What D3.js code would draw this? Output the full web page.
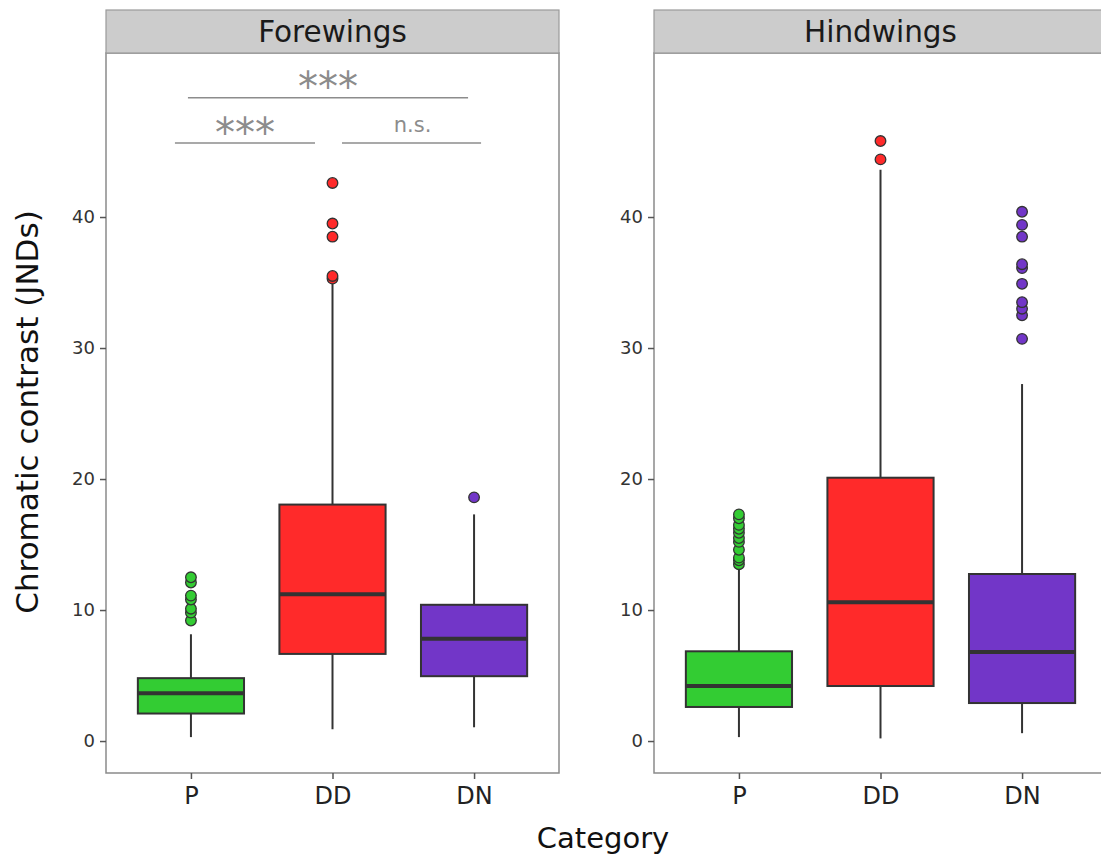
<!DOCTYPE html>
<html><head><meta charset="utf-8">
<script src="https://cdn.jsdelivr.net/npm/d3@7/dist/d3.min.js"></script>
<style>body{margin:0;background:#fff}svg{display:block}</style>
</head><body>
<svg id="chart" width="1101" height="857"></svg>
<script>
// ---- data ----
const categories = ["P", "DD", "DN"];
const panelNames = ["Forewings", "Hindwings"];
const yTicks = [0, 10, 20, 30, 40];
const fillColors = ["#33CC33", "#FF2A2A", "#7236C8"];

const foreLower  = [0.3, 0.9, 1.05];
const foreQ1     = [2.1, 6.65, 4.95];
const foreMedian = [3.65, 11.2, 7.8];
const foreQ3     = [4.8, 18.05, 10.4];
const foreUpper  = [8.15, 35.0, 17.3];
const foreOutliers = [
  [9.2, 9.8, 10.1, 10.8, 11.1, 12.1, 12.5],
  [35.3, 35.5, 38.5, 39.5, 42.6],
  [18.6]
];

const hindLower  = [0.3, 0.2, 0.6];
const hindQ1     = [2.6, 4.2, 2.9];
const hindMedian = [4.2, 10.6, 6.8];
const hindQ3     = [6.85, 20.1, 12.75];
const hindUpper  = [13.3, 43.6, 27.25];
const hindOutliers = [
  [13.5, 13.8, 14.0, 14.6, 15.2, 15.5, 15.9, 16.2, 16.5, 17.0, 17.3],
  [44.4, 45.8],
  [30.7, 32.5, 33.0, 33.5, 34.9, 36.1, 36.4, 38.5, 39.4, 40.4]
];

// significance brackets (forewings panel)
const bracketFrom  = ["P", "P", "DD"];
const bracketTo    = ["DN", "DD", "DN"];
const bracketY     = [49.1, 45.65, 45.65];
const bracketLabel = ["***", "***", "n.s."];

// ---- layout ----
const svg = d3.select("#chart");
const panelW = 453, panelTop = 53, panelBottom = 773, stripTop = 10;
const panelLefts = [106, 654];

const y = d3.scaleLinear().domain([-2.44, 52.52]).range([panelBottom, panelTop]);
const x = d3.scalePoint().domain(categories).range([0, panelW]).padding(0.6);
const boxW = x.step() * 0.75;

const panelData = [
  {name: panelNames[0], lower: foreLower, q1: foreQ1, med: foreMedian, q3: foreQ3, upper: foreUpper, out: foreOutliers},
  {name: panelNames[1], lower: hindLower, q1: hindQ1, med: hindMedian, q3: hindQ3, upper: hindUpper, out: hindOutliers}
];

panelData.forEach((pd, pi) => {
  const g = svg.append("g").attr("transform", `translate(${panelLefts[pi]},0)`);
  g.append("rect").attr("x", 0).attr("y", panelTop).attr("width", panelW).attr("height", panelBottom - panelTop)
    .attr("fill", "#fff").attr("stroke", "#8a8a8a").attr("stroke-width", 1.5);
  g.append("rect").attr("x", 0).attr("y", stripTop).attr("width", panelW).attr("height", panelTop - stripTop)
    .attr("fill", "#cccccc").attr("stroke", "#9a9a9a").attr("stroke-width", 1.2);
  g.append("text").attr("x", panelW / 2).attr("y", 41.5).attr("text-anchor", "middle")
    .attr("font-family", "DejaVu Sans").attr("font-size", 29.5).attr("fill", "#1a1a1a").text(pd.name);

  const yAxis = d3.axisLeft(y).tickValues(yTicks).tickSize(6).tickPadding(5).tickFormat(d3.format("d"));
  const ya = g.append("g").call(yAxis);
  ya.select(".domain").remove();
  ya.selectAll(".tick line").attr("stroke", "#555").attr("stroke-width", 1.5);
  ya.selectAll(".tick text").attr("font-family", "DejaVu Sans").attr("font-size", 18).attr("fill", "#333");

  const xAxis = d3.axisBottom(x).tickSize(6).tickPadding(8);
  const xa = g.append("g").attr("transform", `translate(0,${panelBottom})`).call(xAxis);
  xa.select(".domain").remove();
  xa.selectAll(".tick line").attr("stroke", "#555").attr("stroke-width", 1.5);
  xa.selectAll(".tick text").attr("font-family", "DejaVu Sans").attr("font-size", 24).attr("fill", "#222");

  categories.forEach((c, i) => {
    const cx = x(c);
    const bg = g.append("g");
    bg.append("line").attr("x1", cx).attr("x2", cx).attr("y1", y(pd.lower[i])).attr("y2", y(pd.q1[i]))
      .attr("stroke", "#333").attr("stroke-width", 2);
    bg.append("line").attr("x1", cx).attr("x2", cx).attr("y1", y(pd.q3[i])).attr("y2", y(pd.upper[i]))
      .attr("stroke", "#333").attr("stroke-width", 2);
    bg.append("rect").attr("x", cx - boxW / 2).attr("width", boxW)
      .attr("y", y(pd.q3[i])).attr("height", y(pd.q1[i]) - y(pd.q3[i]))
      .attr("fill", fillColors[i]).attr("stroke", "#333").attr("stroke-width", 2);
    bg.append("line").attr("x1", cx - boxW / 2).attr("x2", cx + boxW / 2)
      .attr("y1", y(pd.med[i])).attr("y2", y(pd.med[i]))
      .attr("stroke", "#333").attr("stroke-width", 4);
    bg.selectAll("circle.o").data(pd.out[i]).enter().append("circle")
      .attr("cx", cx).attr("cy", d => y(d)).attr("r", 5.3)
      .attr("fill", fillColors[i]).attr("stroke", "#333").attr("stroke-width", 1.3);
  });

  if (pi === 0) {
    const offL = [-3, -16, 9.5], offR = [-6, -17.5, 7];
    bracketLabel.forEach((lab, k) => {
      const x1 = x(bracketFrom[k]) + offL[k], x2 = x(bracketTo[k]) + offR[k];
      const yy = y(bracketY[k]);
      g.append("line").attr("x1", x1).attr("x2", x2).attr("y1", yy).attr("y2", yy)
        .attr("stroke", "#8c8c8c").attr("stroke-width", 1.5);
      const isStar = lab === "***";
      g.append("text").attr("x", (x1 + x2) / 2 + (isStar ? 0 : 1)).attr("y", isStar ? yy + 3.5 : yy - 11)
        .attr("text-anchor", "middle").attr("font-family", "DejaVu Sans")
        .attr("font-size", isStar ? 40 : 21).attr("fill", "#8c8c8c").text(lab);
    });
  }
});

svg.append("text").attr("transform", `translate(38,412) rotate(-90)`)
  .attr("text-anchor", "middle").attr("font-family", "DejaVu Sans").attr("font-size", 31).attr("fill", "#111")
  .text("Chromatic contrast (JNDs)");
svg.append("text").attr("x", 603).attr("y", 848).attr("text-anchor", "middle")
  .attr("font-family", "DejaVu Sans").attr("font-size", 29).attr("fill", "#111").text("Category");
</script>
</body></html>
